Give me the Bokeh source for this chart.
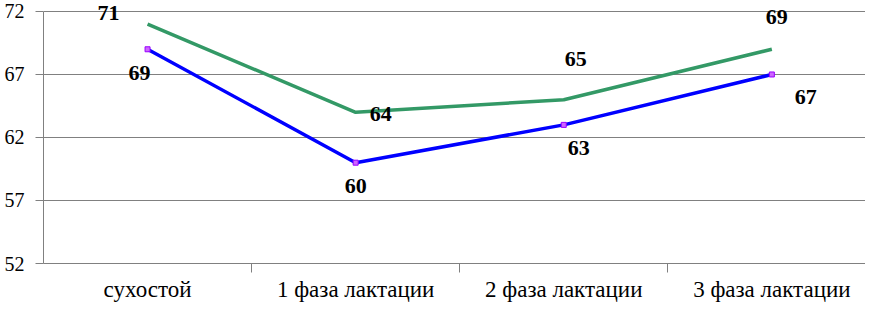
from bokeh.plotting import figure
from bokeh.models import (ColumnDataSource, FixedTicker, Range1d, LabelSet)
from bokeh.embed import file_html
from bokeh.resources import INLINE

categories = ["сухостой", "1 фаза лактации", "2 фаза лактации", "3 фаза лактации"]
green_values = [71, 64, 65, 69]
blue_values = [69, 60, 63, 67]
y_ticks = [52, 57, 62, 67, 72]

# label offsets (pixels) - styling only
green_dx = [-39, 25, 12, 5]
green_dy = [11, -2, 41, 32]
blue_dx = [-8, 0, 15, 34]
blue_dy = [-24, -23, -23, -23]

xs = list(range(len(categories)))
FONT = "'Liberation Serif', 'Times New Roman', serif"

p = figure(width=865, height=304, output_backend="svg", toolbar_location=None,
           x_range=Range1d(-0.5, 3.45),
           y_range=Range1d(min(y_ticks), 72.87),
           min_border_left=43, min_border_right=0, min_border_top=0,
           min_border_bottom=40)
p.outline_line_color = None
p.background_fill_color = "white"
p.border_fill_color = "white"

# x axis: labels at category centers, tick marks between categories
p.xaxis.ticker = FixedTicker(ticks=xs, minor_ticks=[i + 0.5 for i in xs[:-1]])
p.xaxis.major_label_overrides = {i: c for i, c in zip(xs, categories)}
p.xaxis.major_tick_out = 0
p.xaxis.major_tick_in = 0
p.xaxis.minor_tick_out = 9
p.xaxis.minor_tick_in = 0
p.xaxis.minor_tick_line_color = "#808080"
p.xaxis.axis_line_color = "#808080"
p.xaxis.major_label_text_font = FONT
p.xaxis.major_label_text_font_size = "23px"
p.xaxis.major_label_text_color = "black"
p.xaxis.major_label_standoff = 4

# y axis
p.yaxis.ticker = FixedTicker(ticks=y_ticks, minor_ticks=[])
p.yaxis.bounds = (min(y_ticks), max(y_ticks))
p.yaxis.major_tick_out = 8
p.yaxis.major_tick_in = 0
p.yaxis.major_tick_line_color = "#808080"
p.yaxis.axis_line_color = "#808080"
p.yaxis.minor_tick_line_color = None
p.yaxis.major_label_text_font = FONT
p.yaxis.major_label_text_font_size = "20px"
p.yaxis.major_label_text_color = "black"
p.yaxis.major_label_standoff = 11

p.xgrid.grid_line_color = None
p.ygrid.grid_line_color = "#808080"
p.ygrid.grid_line_width = 1

src = ColumnDataSource(dict(x=xs, g=green_values, b=blue_values,
                            gt=[str(v) for v in green_values],
                            bt=[str(v) for v in blue_values],
                            gdx=green_dx, gdy=green_dy, bdx=blue_dx, bdy=blue_dy))

p.line("x", "g", source=src, line_color="#339966", line_width=3.5)
p.line("x", "b", source=src, line_color="#0000FF", line_width=3.5)
p.scatter("x", "b", source=src, marker="square", size=5,
          fill_color="#CC66FF", line_color="#9900FF", line_width=1)

for yf, tf, dxf, dyf in [("g", "gt", "gdx", "gdy"), ("b", "bt", "bdx", "bdy")]:
    p.add_layout(LabelSet(x="x", y=yf, text=tf, source=src,
                          x_offset=dxf, y_offset=dyf,
                          text_align="center", text_baseline="middle",
                          text_font=FONT, text_font_size="22px",
                          text_font_style="bold", text_color="black"))

open("out.html", "w").write(file_html(p, INLINE))
